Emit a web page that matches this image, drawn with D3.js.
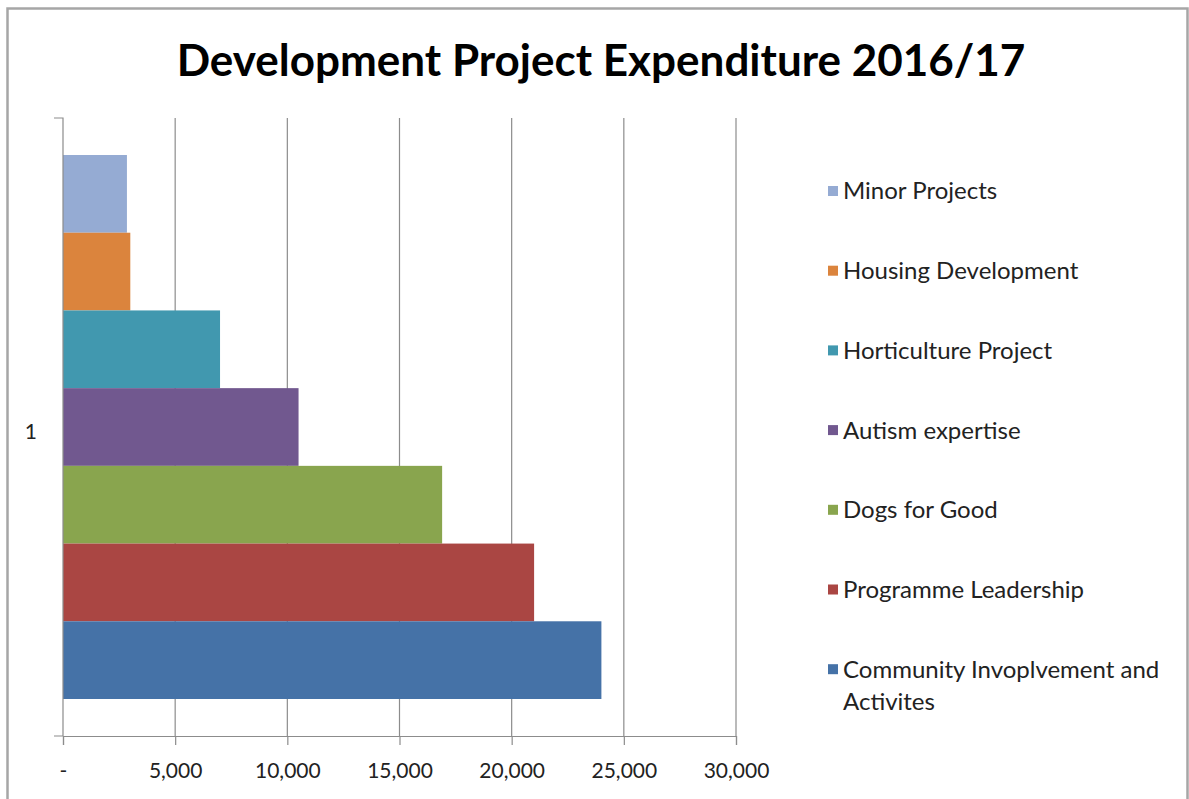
<!DOCTYPE html>
<html>
<head>
<meta charset="utf-8">
<script src="https://cdn.jsdelivr.net/npm/d3@7"></script>
<style>
  body { margin: 0; background: #fff; }
  svg { display: block; font-family: Lato, "Open Sans", sans-serif; }
</style>
</head>
<body>
<svg id="chart"></svg>
<script>
const width = 1189;
const height = 799;

// data
const categories = ['1'];
const seriesNames = ['Minor Projects', 'Housing Development', 'Horticulture Project',
  'Autism expertise', 'Dogs for Good', 'Programme Leadership', 'Community Invoplvement and Activites'];
const seriesValues = [2850, 3000, 7000, 10500, 16900, 21000, 24000];
const seriesColors = ['#95abd3', '#db843d', '#4198af', '#71588f', '#89a54e', '#aa4643', '#4572a7'];
const xTicks = [0, 5000, 10000, 15000, 20000, 25000, 30000];

const plotLeft = 63, plotRight = 736, plotTop = 118, plotBottom = 736;

const svg = d3.select('#chart')
  .attr('width', width)
  .attr('height', height);

// outer frame
svg.append('rect')
  .attr('x', 7.5).attr('y', 8.5)
  .attr('width', 1180).attr('height', 820)
  .attr('fill', 'none')
  .attr('stroke', '#a6a6a6')
  .attr('stroke-width', 2.5);

svg.append('text')
  .attr('x', 601).attr('y', 76)
  .attr('text-anchor', 'middle')
  .attr('font-size', 44)
  .attr('font-weight', 'bold')
  .attr('fill', '#000')
  .text('Development Project Expenditure 2016/17');

const x = d3.scaleLinear().domain([0, 30000]).range([plotLeft, plotRight]);
const y = d3.scaleBand().domain(categories).range([plotBottom, plotTop]);
// series inside the category, first series at the top
const yInner = d3.scaleBand().domain(seriesNames)
  .range([37, y.bandwidth() - 37]);

// gridlines
svg.append('g').selectAll('line')
  .data(xTicks.slice(1))
  .enter()
  .append('line')
  .attr('x1', d => x(d)).attr('x2', d => x(d))
  .attr('y1', plotTop).attr('y2', plotBottom)
  .attr('stroke', '#8c8c8c')
  .attr('stroke-width', 1.2);

// bars
svg.append('g').selectAll('rect')
  .data(seriesNames.map((name, i) => ({name: name, value: seriesValues[i], color: seriesColors[i]})))
  .enter()
  .append('rect')
  .attr('x', x(0))
  .attr('y', d => y('1') + yInner(d.name))
  .attr('width', d => x(d.value) - x(0))
  .attr('height', yInner.bandwidth())
  .attr('fill', d => d.color);

// x axis
const xAxis = svg.append('g')
  .attr('transform', `translate(0, ${plotBottom})`)
  .call(d3.axisBottom(x).tickValues(xTicks).tickSize(9).tickPadding(18)
    .tickFormat(d => d === 0 ? '-' : d3.format(',')(d)));
xAxis.select('.domain').attr('stroke', '#8c8c8c').attr('stroke-width', 1.2);
xAxis.selectAll('.tick line').attr('stroke', '#8c8c8c').attr('stroke-width', 1.2);
xAxis.selectAll('.tick text')
  .attr('font-size', 21)
  .attr('font-family', 'Lato, "Open Sans", sans-serif')
  .attr('fill', '#222');

// y axis
const yAxis = svg.append('g')
  .attr('transform', `translate(${plotLeft}, 0)`)
  .call(d3.axisLeft(y).tickSize(0).tickPadding(26));
yAxis.select('.domain').attr('stroke', '#8c8c8c').attr('stroke-width', 1.2)
  .attr('d', `M-9,${plotTop}H0V${plotBottom}H-9`);
yAxis.selectAll('.tick text')
  .attr('font-size', 21)
  .attr('y', 5)
  .attr('font-family', 'Lato, "Open Sans", sans-serif')
  .attr('fill', '#222');

// legend
const legendTop = 191, legendStep = 79.7;
const legend = svg.append('g').selectAll('g')
  .data(seriesNames)
  .enter()
  .append('g')
  .attr('transform', (d, i) => `translate(828, ${legendTop + i * legendStep})`);

legend.append('rect')
  .attr('x', 0).attr('y', -5)
  .attr('width', 10).attr('height', 10)
  .attr('fill', (d, i) => seriesColors[i]);

legend.append('text')
  .attr('x', 15).attr('y', 0)
  .attr('dy', '0.35em')
  .attr('font-size', 24)
  .attr('fill', '#222')
  .each(function (d) {
    const words = d.split(' ');
    const t = d3.select(this);
    if (d.length > 24) {
      t.append('tspan').attr('x', 15).text(words.slice(0, 3).join(' '));
      t.append('tspan').attr('x', 15).attr('dy', 32).text(words.slice(3).join(' '));
    } else {
      t.text(d);
    }
  });
</script>
</body>
</html>
